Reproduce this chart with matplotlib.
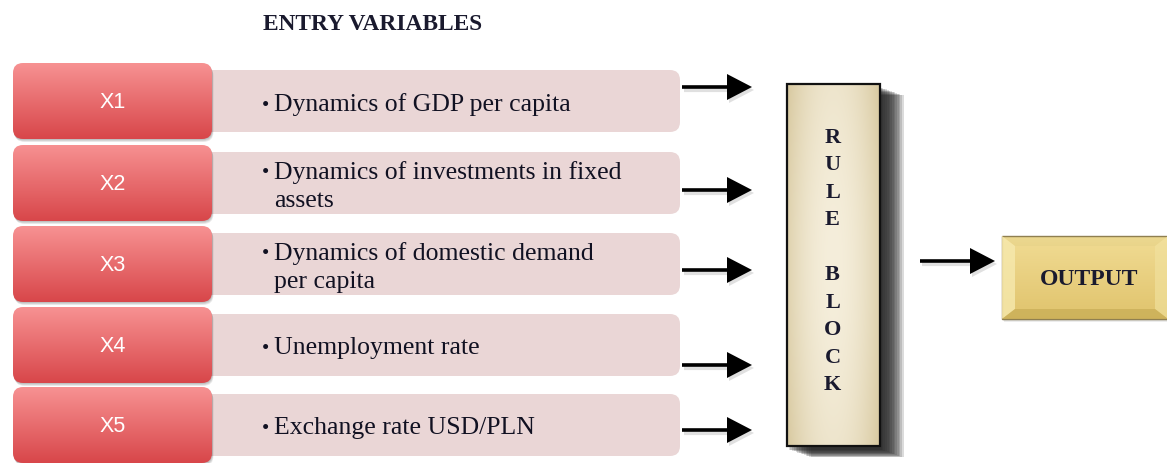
import numpy as np
import matplotlib
matplotlib.use("Agg")
import matplotlib.pyplot as plt
from matplotlib.patches import FancyBboxPatch, Rectangle, Polygon
from matplotlib.colors import to_rgb

# ---- content ----
title = "ENTRY VARIABLES"
var_labels = ["X1", "X2", "X3", "X4", "X5"]
var_desc = [
    "Dynamics of GDP per capita",
    "Dynamics of investments in fixed\nassets",
    "Dynamics of domestic demand\nper capita",
    "Unemployment rate",
    "Exchange rate USD/PLN",
]
rule_letters = ["R", "U", "L", "E", "", "B", "L", "O", "C", "K"]
output_label = "OUTPUT"

W, H = 1167, 464
fig = plt.figure(figsize=(W / 100, H / 100), dpi=100)
ax = fig.add_axes([0, 0, 1, 1])
ax.set_xlim(0, W)
ax.set_ylim(H, 0)
ax.axis("off")

SERIF = ["Liberation Serif", "DejaVu Serif"]
SANS = ["Liberation Sans", "DejaVu Sans"]


def gradient_box(x, y, w, h, arr, r, z, ec="none", lw=0):
    if r > 0:
        patch = FancyBboxPatch((x + r, y + r), w - 2 * r, h - 2 * r,
                               boxstyle=f"round,pad={r}", fc="none",
                               ec=ec, lw=lw, zorder=z + 0.1)
    else:
        patch = Rectangle((x, y), w, h, fc="none", ec=ec, lw=lw, zorder=z + 0.1)
    ax.add_patch(patch)
    im = ax.imshow(arr, extent=(x, x + w, y + h, y), origin="upper",
                   zorder=z, interpolation="bilinear", aspect="auto")
    im.set_clip_path(patch)
    return patch


def vgrad(c1, c2, n=100):
    a, b = np.array(to_rgb(c1)), np.array(to_rgb(c2))
    t = np.linspace(0, 1, n)[:, None]
    return (a * (1 - t) + b * t)[:, None, :]


def shadow(x, y, w, h, r, dx, dy, n, alpha, z):
    for k in range(1, n + 1):
        p = FancyBboxPatch((x + r + dx * k / n, y + r + dy * k / n), w - 2 * r, h - 2 * r,
                           boxstyle=f"round,pad={r}", fc="black", ec="none",
                           alpha=alpha, zorder=z)
        ax.add_patch(p)


def arrow(x0, x1, y, z=5, head_len=25, head_h=26):
    ax.plot([x0 + 2, x1 - head_len + 2], [y + 3, y + 3], color="black", lw=3, alpha=0.12,
            solid_capstyle="butt", zorder=z - 1)
    ax.add_patch(Polygon([[x1 - head_len + 2, y - head_h / 2 + 3], [x1 + 2, y + 3],
                          [x1 - head_len + 2, y + head_h / 2 + 3]],
                         closed=True, fc="black", ec="none", alpha=0.12, zorder=z - 1))
    ax.plot([x0, x1 - head_len + 2], [y, y], color="black", lw=2.6,
            solid_capstyle="butt", zorder=z)
    ax.add_patch(Polygon([[x1 - head_len, y - head_h / 2], [x1, y],
                          [x1 - head_len, y + head_h / 2]],
                         closed=True, fc="black", ec="none", zorder=z))


# title
ax.text(263, 24, title, fontsize=16.8, fontweight="bold", family=SERIF,
        color="#1a1a2e", ha="left", va="center")

# rows
row_tops = [64, 146, 227, 308, 388]
arrow_y = [88, 191, 271, 366, 431]
red_x, red_w, red_h = 13, 199, 76
pink_x, pink_w = 190, 490
for i, (lab, desc) in enumerate(zip(var_labels, var_desc)):
    top = row_tops[i]
    ax.add_patch(FancyBboxPatch((pink_x + 10, top + 7 + 10), pink_w - 20, red_h - 14 - 20,
                                boxstyle="round,pad=10", fc="#ead6d6", ec="none", zorder=1))
    shadow(red_x, top, red_w, red_h, 10, 1.5, 3, 4, 0.07, 1.5)
    gradient_box(red_x, top, red_w, red_h, vgrad("#f79292", "#d8464a"), 10, 2)
    ax.text(red_x + red_w / 2, top + red_h / 2 + 1, lab, fontsize=15.5, family=SANS,
            color="white", ha="center", va="center", zorder=3)
    cy = top + red_h / 2 + 1
    two = "\n" in desc
    ax.text(262, cy + 3 - (14 if two else 0), "\u2022", fontsize=15, family=SERIF,
            color="#111122", ha="left", va="center", zorder=3)
    ax.text(274, cy + 1.5, desc, fontsize=18.5, family=SERIF, color="#111122",
            ha="left", va="center", linespacing=1.3, zorder=3)
    arrow(682, 752, arrow_y[i])

# rule block
bx, by, bw, bh = 787, 85, 93, 362
for k in range(1, 15):
    ax.add_patch(Rectangle((bx + k * 1.7, by + 3 + k * 0.6), bw, bh, fc="#222222", ec="none",
                           alpha=0.16, zorder=3))
xs = np.linspace(-1, 1, 60)
ys = np.linspace(0, 1, 200)
X, Y = np.meshgrid(xs, ys)
light = np.clip(1 - 0.75 * X ** 2 - 0.25 * (1 - np.sin(np.pi * Y)), 0, 1)
c_dark = np.array(to_rgb("#d8c9a0"))
c_light = np.array(to_rgb("#f5eedb"))
arr = c_dark[None, None, :] * (1 - light[..., None]) + c_light[None, None, :] * light[..., None]
gradient_box(bx, by, bw, bh, arr, 0, 4, ec="#111111", lw=1.6)
r_y0, r_step = 138, 27.5
for j, ch in enumerate(rule_letters):
    if ch:
        ax.text(bx + bw / 2 - 1, r_y0 + j * r_step, ch, fontsize=16, fontweight="bold",
                family=SERIF, color="#1a1a2e", ha="center", va="center", zorder=5)

# output arrow and box
arrow(920, 995, 262)
ox, oy, ow, oh = 1002, 237, 166, 83
shadow(ox, oy, ow, oh, 0.5, 2, 3, 4, 0.06, 3)
gradient_box(ox, oy, ow, oh, vgrad("#ecd890", "#d6bb60"), 0, 4, ec="#8f7f50", lw=1.0)
inset_x, inset_y = 13, 10
gradient_box(ox + inset_x, oy + inset_y, ow - 2 * inset_x, oh - 2 * inset_y,
             vgrad("#efd98f", "#e2c671"), 0, 4.5)
ax.add_patch(Polygon([[ox, oy], [ox + inset_x, oy + inset_y], [ox + inset_x, oy + oh - inset_y],
                      [ox, oy + oh]], closed=True, fc="#f7e9ad", ec="none", alpha=0.85, zorder=4.6))
ax.add_patch(Polygon([[ox + ow, oy], [ox + ow - inset_x, oy + inset_y],
                      [ox + ow - inset_x, oy + oh - inset_y], [ox + ow, oy + oh]],
                     closed=True, fc="#f4e3a0", ec="none", alpha=0.7, zorder=4.6))
ax.add_patch(Polygon([[ox, oy + oh], [ox + inset_x, oy + oh - inset_y],
                      [ox + ow - inset_x, oy + oh - inset_y], [ox + ow, oy + oh]],
                     closed=True, fc="#c9ad58", ec="none", alpha=0.6, zorder=4.6))
ax.text(ox + 87, oy + oh / 2 + 1, output_label, fontsize=17, fontweight="bold", family=SERIF,
        color="#1a1a2e", ha="center", va="center", zorder=6)

ax.set_xlim(0, W)
ax.set_ylim(H, 0)
fig.savefig("out.png", dpi=100, facecolor="white")
